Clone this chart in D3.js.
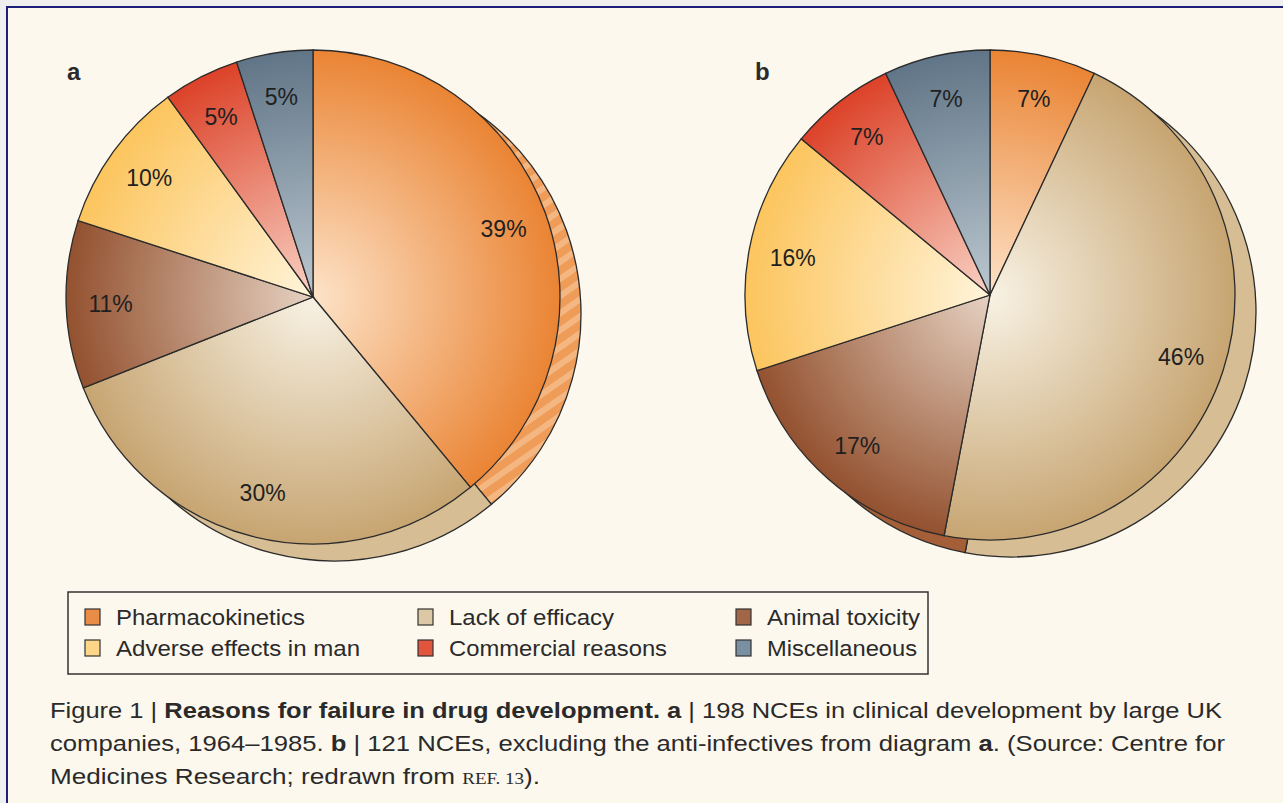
<!DOCTYPE html>
<html>
<head>
<meta charset="utf-8">
<script src="https://cdn.jsdelivr.net/npm/d3@7"></script>
<style>
  html, body { margin: 0; padding: 0; background: #efefef; }
  svg { display: block; }
  text { font-family: "Liberation Sans", Arial, Helvetica, sans-serif; }
</style>
</head>
<body>
<svg id="chart" width="1283" height="803"></svg>
<script>
// ---------- data ----------
const categories = ["Pharmacokinetics", "Lack of efficacy", "Animal toxicity",
                    "Adverse effects in man", "Commercial reasons", "Miscellaneous"];
const valuesA = [39, 30, 11, 10, 5, 5];
const valuesB = [7, 46, 17, 16, 7, 7];
const labelsA = ["39%", "30%", "11%", "10%", "5%", "5%"];
const labelsB = ["7%", "46%", "17%", "16%", "7%", "7%"];
const legendOrder = [0, 1, 2, 3, 4, 5];

// ---------- styles ----------
const innerColors = ["#fde3c8", "#f8f2e4", "#e6d2c2", "#fff4da", "#f9d2c4", "#bcc8d0"];
const outerColors = ["#ea8434", "#c7a572", "#93512f", "#fcc55e", "#dc4229", "#607587"];
const shadowColors = ["#ef9c58", "#d6bd94", "#a55f38", "#fcd27e", "#e05a40", "#6f8496"];
const swatchColors = ["#e98d46", "#dcc8a4", "#a06646", "#fdd687", "#e0553b", "#7a8fa0"];

const svg = d3.select("#chart");
const defs = svg.append("defs");

// striped pattern for the pharmacokinetics shadow
const pat = defs.append("pattern").attr("id", "stripe0")
  .attr("patternUnits", "userSpaceOnUse").attr("width", 14).attr("height", 14)
  .attr("patternTransform", "rotate(-35)");
pat.append("rect").attr("width", 14).attr("height", 14).attr("fill", shadowColors[0]);
pat.append("rect").attr("width", 14).attr("height", 6).attr("fill", "#f5b782");

// frame
svg.append("rect").attr("x", 7).attr("y", 7).attr("width", 1300).attr("height", 820)
  .attr("fill", "#fcf8ee").attr("stroke", "#1d1f7a").attr("stroke-width", 2);

function drawPie(id, cx, cy, r, values, labels, letter, lx) {
  const pie = d3.pie().sort(null).value(d => d)(values);
  const arc = d3.arc().innerRadius(0).outerRadius(r);
  const labelArc = d3.arc().innerRadius(r * 0.82).outerRadius(r * 0.82);

  // gradients
  categories.forEach((c, i) => {
    const g = defs.append("radialGradient").attr("id", `g${id}${i}`)
      .attr("gradientUnits", "userSpaceOnUse")
      .attr("cx", 0).attr("cy", 0).attr("r", r);
    g.append("stop").attr("offset", "0%").attr("stop-color", innerColors[i]);
    g.append("stop").attr("offset", "100%").attr("stop-color", outerColors[i]);
  });

  // shadow disk (3D depth)
  const sh = svg.append("g").attr("transform", `translate(${cx + 21},${cy + 17})`);
  sh.selectAll("path").data(pie).join("path")
    .attr("d", arc)
    .attr("fill", (d, i) => i === 0 ? "url(#stripe0)" : shadowColors[i])
    .attr("stroke", "#2b2b2b").attr("stroke-width", 1.3);

  const g = svg.append("g").attr("transform", `translate(${cx},${cy})`);
  g.selectAll("path").data(pie).join("path")
    .attr("d", arc)
    .attr("fill", (d, i) => `url(#g${id}${i})`)
    .attr("stroke", "#2b2b2b").attr("stroke-width", 1.3);

  g.selectAll("text").data(pie).join("text")
    .attr("transform", d => `translate(${labelArc.centroid(d)})`)
    .attr("text-anchor", "middle").attr("dy", "0.36em")
    .attr("font-size", 23).attr("fill", "#1f1f1f")
    .text((d, i) => labels[i]);

  svg.append("text").attr("x", lx).attr("y", 80)
    .attr("font-size", 24).attr("font-weight", "bold").attr("fill", "#2a2a2a")
    .text(letter);
}

drawPie("a", 313, 297, 247, valuesA, labelsA, "a", 67);
drawPie("b", 990, 295, 245, valuesB, labelsB, "b", 755);

// ---------- legend ----------
svg.append("rect").attr("x", 68).attr("y", 592).attr("width", 860).attr("height", 82)
  .attr("fill", "none").attr("stroke", "#333").attr("stroke-width", 1.5);
const colX = [85, 418, 736];
const rowY = [609, 640];
const textWidths = [189, 165, 153, 244, 218, 150];
legendOrder.forEach((ci, k) => {
  const col = k % 3, row = Math.floor(k / 3);
  svg.append("rect").attr("x", colX[col]).attr("y", rowY[row]).attr("width", 15).attr("height", 16)
    .attr("fill", swatchColors[ci]).attr("stroke", "#333").attr("stroke-width", 1.2);
  svg.append("text").attr("x", colX[col] + 31).attr("y", rowY[row] + 16)
    .attr("font-size", 22).attr("fill", "#2a2a2a")
    .attr("textLength", textWidths[ci]).attr("lengthAdjust", "spacingAndGlyphs")
    .text(categories[ci]);
});

// ---------- caption ----------
const capLines = [
  { y: 718, w: 1172, parts: [["Figure 1 | ", false], ["Reasons for failure in drug development. a", true], [" | 198 NCEs in clinical development by large UK", false]] },
  { y: 751, w: 1175, parts: [["companies, 1964–1985. ", false], ["b", true], [" | 121 NCEs, excluding the anti-infectives from diagram ", false], ["a", true], [". (Source: Centre for", false]] },
  { y: 784, w: 490, parts: [["Medicines Research; redrawn from ", false], ["REF. 13", "sc"], [").", false]] }
];
capLines.forEach(l => {
  const t = svg.append("text").attr("x", 50).attr("y", l.y)
    .attr("font-size", 22).attr("fill", "#2a2a2a")
    .attr("textLength", l.w).attr("lengthAdjust", "spacingAndGlyphs");
  l.parts.forEach(p => {
    const s = t.append("tspan").text(p[0]);
    if (p[1] === true) s.attr("font-weight", "bold");
    if (p[1] === "sc") s.attr("font-size", 16).attr("font-family", "Liberation Serif");
  });
});
</script>
</body>
</html>
